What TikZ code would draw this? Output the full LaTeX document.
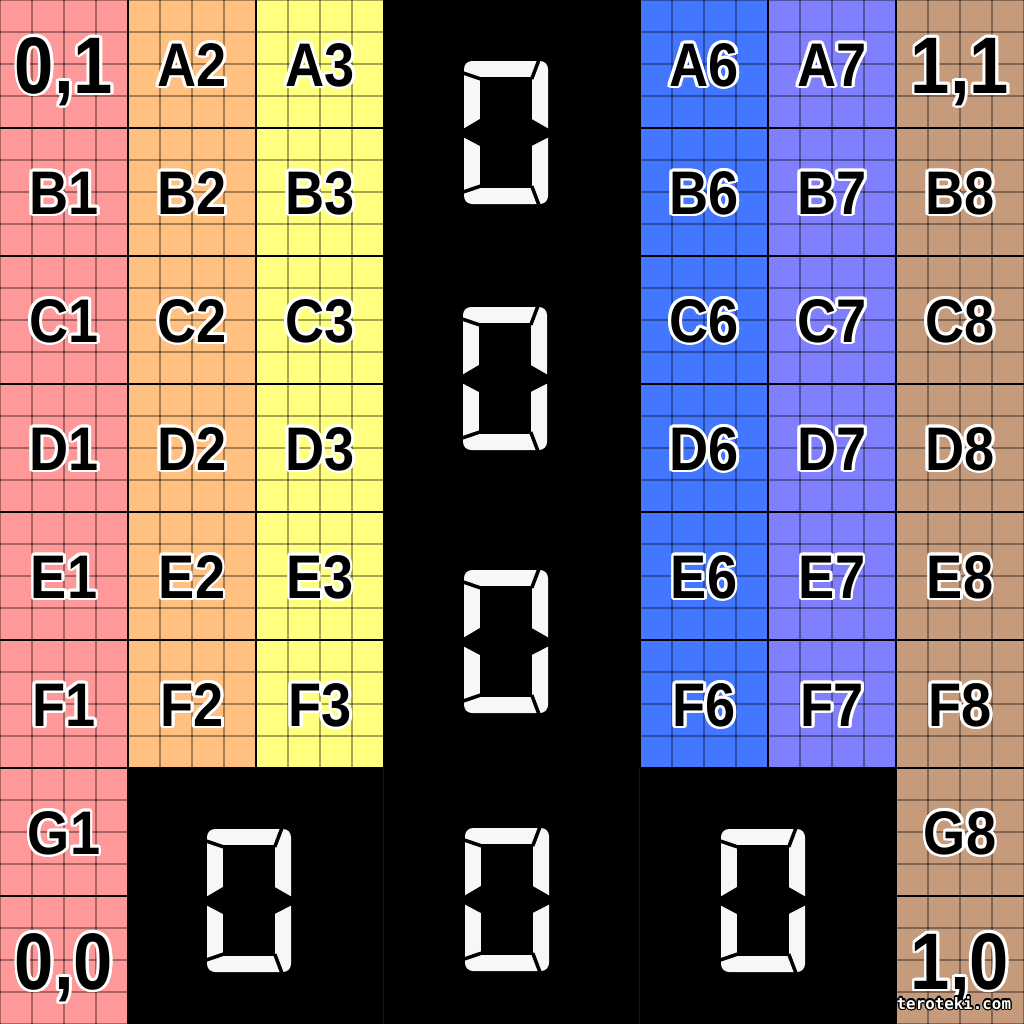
\documentclass[tikz,border=0pt]{standalone}
\usepackage{fontspec}
\setmainfont{Liberation Sans}[FakeStretch=0.88]
\newfontfamily\sitefont{DejaVu Sans Mono}
\usepackage[copies]{contour}
\contourlength{0.8pt}

\definecolor{pinkcol}{HTML}{FF9999}
\definecolor{orangecol}{HTML}{FFC080}
\definecolor{yellowcol}{HTML}{FFFF80}
\definecolor{bluecol}{HTML}{4477FF}
\definecolor{violetcol}{HTML}{8080FF}
\definecolor{tancol}{HTML}{C59B7C}
\definecolor{segwhite}{HTML}{F7F7F7}
\definecolor{navyline}{HTML}{101038}

\newcommand{\segzero}[2]{%
    \begin{scope}[shift={(#1,#2)}]
        \fill[segwhite, rounded corners=0.08cm] (0,0) rectangle (84,143);
        \fill[black] (16,16) rectangle (67.5,127);
        \fill[black] (-1,68) -- (16,58) -- (67.5,58) -- (85,68) -- (85,76) -- (67.5,85) -- (16,85) -- (-1,76) -- cycle;
        \draw[gap] (-2,11.6) -- (18,18.4);
        \draw[gap] (-2,131.4) -- (18,124.6);
        \draw[gap] (75.3,-2) -- (67.7,18);
        \draw[gap] (75.3,145) -- (67.7,125);
    \end{scope}}

\begin{document}
\begin{tikzpicture}[x=0.01cm, y=-0.01cm,
    lbl/.style={anchor=base, inner sep=0pt, font=\bfseries\fontsize{17.5}{20}\selectfont},
    big/.style={anchor=base, inner sep=0pt, font=\bfseries\fontsize{22.8}{26}\selectfont},
    fine/.style={black, opacity=0.35, line width=0.02cm},
    border/.style={black, line width=0.02cm},
    gap/.style={black, line width=0.035cm}]
    \useasboundingbox (0,0) rectangle (1024,1024);
    \fill[black] (0,0) rectangle (1024,1024);

    \fill[pinkcol] (0,0) rectangle (128,1024);
    \fill[orangecol] (128,0) rectangle (256,768);
    \fill[yellowcol] (256,0) rectangle (384,768);
    \fill[bluecol] (640,0) rectangle (768,768);
    \fill[violetcol] (768,0) rectangle (896,768);
    \fill[tancol] (896,0) rectangle (1024,1024);

    \begin{scope}
        \clip (0,0) rectangle (384,768) (0,768) rectangle (128,1024)
              (640,0) rectangle (1024,768) (896,768) rectangle (1024,1024);
        \foreach \k in {0,32,...,1024} {
            \draw[fine] (\k,0) -- (\k,1024);
            \draw[fine] (0,\k) -- (1024,\k);
        }
        \foreach \k in {128,256,...,896} {
            \draw[border] (\k,0) -- (\k,1024);
            \draw[border] (0,\k) -- (1024,\k);
        }
    \end{scope}

    \draw[navyline, line width=0.01cm] (383,768) -- (383,1024);
    \draw[navyline, line width=0.01cm] (639,768) -- (639,1024);

    \segzero{464}{61}
    \segzero{463}{307}
    \segzero{464}{570}
    \segzero{465}{828}
    \segzero{207}{829}
    \segzero{721}{829}

    \node[big] (c01) at (64,93) {\contour{white}{0,1}};
    \node[lbl] (A2) at (192,86) {\contour{white}{A2}};
    \node[lbl] (A3) at (320,86) {\contour{white}{A3}};
    \node[lbl] (A6) at (704,86) {\contour{white}{A6}};
    \node[lbl] (A7) at (832,86) {\contour{white}{A7}};
    \node[big] (c11) at (960,93) {\contour{white}{1,1}};

    \foreach \row [count=\i] in {B,C,D,E,F} {
        \foreach \col/\cx in {1/64,2/192,3/320,6/704,7/832,8/960} {
            \node[lbl] (\row\col) at (\cx,{128*\i+86}) {\contour{white}{\row\col}};
        }
    }

    \node[lbl] (G1) at (64,854) {\contour{white}{G1}};
    \node[lbl] (G8) at (960,854) {\contour{white}{G8}};
    \node[big] (c00) at (64,989) {\contour{white}{0,0}};
    \node[big] (c10) at (960,989) {\contour{white}{1,0}};

    \node[anchor=base west, inner sep=0pt, font=\sitefont\bfseries\fontsize{4.5}{5}\selectfont, text=white]
        (site) at (896,1009) {\contourlength{0.35pt}\contour{black}{teroteki.com}};
\end{tikzpicture}
\end{document}
